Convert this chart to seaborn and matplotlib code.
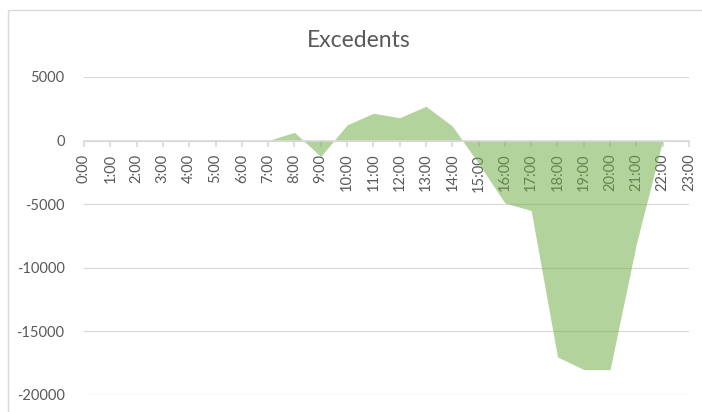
import numpy as np
import pandas as pd
import seaborn as sns
import matplotlib.pyplot as plt

# hores i excedents (llegits del gràfic)
hours = [f"{h}:00" for h in range(24)]
excedents = [0, 0, 0, 0, 0, 0, 0, 0, 650, -1250, 1230, 2150, 1800, 2700,
             1150, -1800, -4900, -5500, -17000, -18000, -18000, -8100, 0, 0]

df = pd.DataFrame({"pos": np.arange(len(hours)), "hora": hours, "exc": excedents})

sns.set_theme(style="white")
plt.rcParams['font.family'] = ['Lato', 'DejaVu Sans']
plt.rcParams['axes.unicode_minus'] = False

fig = plt.figure(figsize=(7.02, 4.12), dpi=100)
ax = fig.add_axes([84/702, 1-395/412, (689-84)/702, (395-77)/412])

# marc del gràfic
fig.patches.append(plt.Rectangle((7.5/702, -0.01), 1.0, 1-10/412+0.01, transform=fig.transFigure,
                                 fill=False, edgecolor='#D9D9D9', linewidth=1))

sns.lineplot(data=df, x="pos", y="exc", ax=ax, linewidth=0, color='#70AD47')
ax.fill_between(df["pos"], df["exc"], 0, color='#70AD47', alpha=0.53, linewidth=0, zorder=3)

ax.set_xlim(0, 23)
ax.set_ylim(-20000, 5000)
ax.set_yticks([5000, 0, -5000, -10000, -15000, -20000])
ax.grid(axis='y', color='#D9D9D9', linewidth=0.9, zorder=4)
ax.set_axisbelow(False)

for s in ['top', 'right', 'left']:
    ax.spines[s].set_visible(False)
ax.spines['bottom'].set_position(('data', 0))
ax.spines['bottom'].set_color('#D9D9D9')
ax.spines['bottom'].set_zorder(4)

ax.set_xticks(df["pos"])
ax.set_xticklabels(df["hora"], rotation=90, va='top', ha='center')
ax.tick_params(axis='x', bottom=True, length=4, color='#D9D9D9', labelsize=10.5,
               labelcolor='#595959', pad=5.5)
ax.tick_params(axis='y', left=False, labelsize=10.5, labelcolor='#595959', pad=8)
for lab in ax.get_xticklabels():
    lab.set_zorder(5)

ax.set_xlabel("")
ax.set_ylabel("")
fig.text(0.511, 1-46.7/412, "Excedents", ha='center', va='baseline', fontsize=16.5, color='#595959')

fig.savefig("out.png", dpi=100)
